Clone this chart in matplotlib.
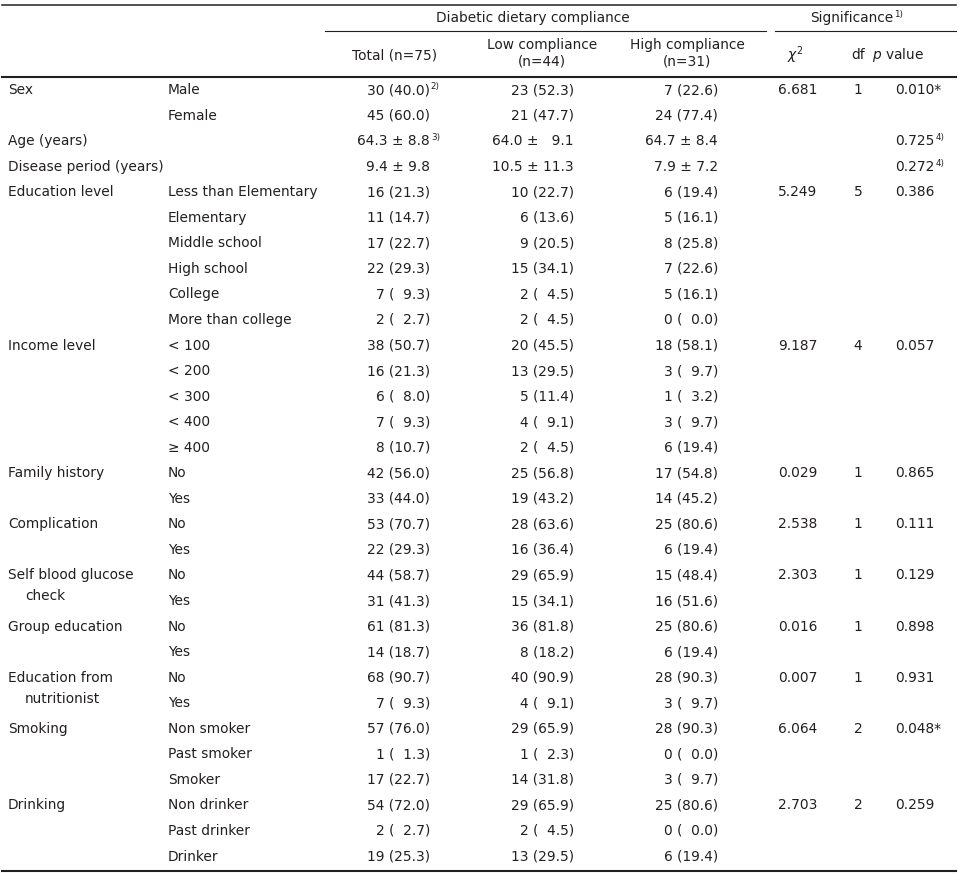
import matplotlib
matplotlib.use("Agg")
import matplotlib.pyplot as plt

plt.rcParams['font.family'] = ['DejaVu Sans']
plt.rcParams['mathtext.fontset'] = 'dejavusans'

# ---------------- data ----------------
variables = ["Sex", "", "Age (years)", "Disease period (years)", "Education level", "", "", "", "", "",
             "Income level", "", "", "", "", "Family history", "", "Complication", "",
             "Self blood glucose\ncheck", "", "Group education", "", "Education from\nnutritionist", "",
             "Smoking", "", "", "Drinking", "", ""]
categories = ["Male", "Female", "", "", "Less than Elementary", "Elementary", "Middle school", "High school",
              "College", "More than college", "< 100", "< 200", "< 300", "< 400", "\u2265 400",
              "No", "Yes", "No", "Yes", "No", "Yes", "No", "Yes", "No", "Yes",
              "Non smoker", "Past smoker", "Smoker", "Non drinker", "Past drinker", "Drinker"]
total = ["30 (40.0)", "45 (60.0)", "64.3 \u00b1 8.8", "9.4 \u00b1 9.8", "16 (21.3)", "11 (14.7)", "17 (22.7)",
         "22 (29.3)", "7 (  9.3)", "2 (  2.7)", "38 (50.7)", "16 (21.3)", "6 (  8.0)", "7 (  9.3)", "8 (10.7)",
         "42 (56.0)", "33 (44.0)", "53 (70.7)", "22 (29.3)", "44 (58.7)", "31 (41.3)", "61 (81.3)",
         "14 (18.7)", "68 (90.7)", "7 (  9.3)", "57 (76.0)", "1 (  1.3)", "17 (22.7)", "54 (72.0)",
         "2 (  2.7)", "19 (25.3)"]
total_notes = ["2)", "", "3)"] + [""] * 28
low = ["23 (52.3)", "21 (47.7)", "64.0 \u00b1   9.1", "10.5 \u00b1 11.3", "10 (22.7)", "6 (13.6)", "9 (20.5)",
       "15 (34.1)", "2 (  4.5)", "2 (  4.5)", "20 (45.5)", "13 (29.5)", "5 (11.4)", "4 (  9.1)", "2 (  4.5)",
       "25 (56.8)", "19 (43.2)", "28 (63.6)", "16 (36.4)", "29 (65.9)", "15 (34.1)", "36 (81.8)",
       "8 (18.2)", "40 (90.9)", "4 (  9.1)", "29 (65.9)", "1 (  2.3)", "14 (31.8)", "29 (65.9)",
       "2 (  4.5)", "13 (29.5)"]
high = ["7 (22.6)", "24 (77.4)", "64.7 \u00b1 8.4", "7.9 \u00b1 7.2", "6 (19.4)", "5 (16.1)", "8 (25.8)",
        "7 (22.6)", "5 (16.1)", "0 (  0.0)", "18 (58.1)", "3 (  9.7)", "1 (  3.2)", "3 (  9.7)", "6 (19.4)",
        "17 (54.8)", "14 (45.2)", "25 (80.6)", "6 (19.4)", "15 (48.4)", "16 (51.6)", "25 (80.6)",
        "6 (19.4)", "28 (90.3)", "3 (  9.7)", "28 (90.3)", "0 (  0.0)", "3 (  9.7)", "25 (80.6)",
        "0 (  0.0)", "6 (19.4)"]
chi2 = ["6.681", "", "", "", "5.249", "", "", "", "", "", "9.187", "", "", "", "", "0.029", "",
        "2.538", "", "2.303", "", "0.016", "", "0.007", "", "6.064", "", "", "2.703", "", ""]
dof = ["1", "", "", "", "5", "", "", "", "", "", "4", "", "", "", "", "1", "",
       "1", "", "1", "", "1", "", "1", "", "2", "", "", "2", "", ""]
p_value = ["0.010*", "", "0.725", "0.272", "0.386", "", "", "", "", "", "0.057", "", "", "", "", "0.865", "",
           "0.111", "", "0.129", "", "0.898", "", "0.931", "", "0.048*", "", "", "0.259", "", ""]
p_notes = ["", "", "4)", "4)"] + [""] * 27

group_header = "Diabetic dietary compliance"
sig_header = "Significance"
col_headers = ["Total (n=75)", "Low compliance\n(n=44)", "High compliance\n(n=31)", r"$\chi^2$", "df", r"$p$ value"]

# ---------------- layout ----------------
W, H = 959, 874
fig = plt.figure(figsize=(W / 100, H / 100), dpi=100)
ax = fig.add_axes([0, 0, 1, 1])
ax.axis('off')

ROW0, STEP = 90.0, 25.55
def px2row(py):
    return (py - ROW0) / STEP

ax.set_xlim(0, W)
ax.set_ylim(px2row(H), px2row(0))

FS = 9.9
SFS = 6.3
COL = '#231f20'
kw = dict(fontsize=FS, color=COL, va='center')

x_var, x_cat = 8, 168
x_total, x_low, x_high = 430, 574, 718
x_chi, x_df, x_p = 778, 858, 895

def sup(txt_artist, note):
    if note:
        ax.annotate(note, xy=(1, 1), xycoords=txt_artist, xytext=(0.6, 0.5),
                    textcoords='offset points', ha='left', va='top', fontsize=SFS, color=COL)

# header
ax.text(533, px2row(18), group_header, ha='center', **kw)
t = ax.text(852, px2row(18), sig_header, ha='center', **kw)
sup(t, "1)")
ax.plot([325, 766], [px2row(31)] * 2, color=COL, lw=0.8)
ax.plot([775, 956], [px2row(31)] * 2, color=COL, lw=0.8)

ax.text(395, px2row(55), col_headers[0], ha='center', **kw)
ax.text(542, px2row(53), col_headers[1], ha='center', linespacing=1.25, **kw)
ax.text(687, px2row(53), col_headers[2], ha='center', linespacing=1.25, **kw)
ax.text(795, px2row(55), col_headers[3], ha='center', **kw)
ax.text(858, px2row(55), col_headers[4], ha='center', **kw)
ax.text(898, px2row(55), col_headers[5], ha='center', **kw)

ax.plot([2, 956], [px2row(4.5)] * 2, color=COL, lw=1.1)
ax.plot([2, 956], [px2row(77)] * 2, color=COL, lw=1.5)
ax.plot([2, 956], [px2row(871)] * 2, color=COL, lw=1.5)

# body
for i in range(len(categories)):
    lines = variables[i].split("\n")
    for k, ln in enumerate(lines):
        ax.text(x_var + (17 if k else 0), i + k * 0.82, ln, ha='left', **kw)
    ax.text(x_cat, i, categories[i], ha='left', **kw)
    t = ax.text(x_total, i, total[i], ha='right', **kw)
    sup(t, total_notes[i])
    ax.text(x_low, i, low[i], ha='right', **kw)
    ax.text(x_high, i, high[i], ha='right', **kw)
    ax.text(x_chi, i, chi2[i], ha='left', **kw)
    ax.text(x_df, i, dof[i], ha='center', **kw)
    t = ax.text(x_p, i, p_value[i], ha='left', **kw)
    sup(t, p_notes[i])

fig.savefig("out.png", dpi=100)
